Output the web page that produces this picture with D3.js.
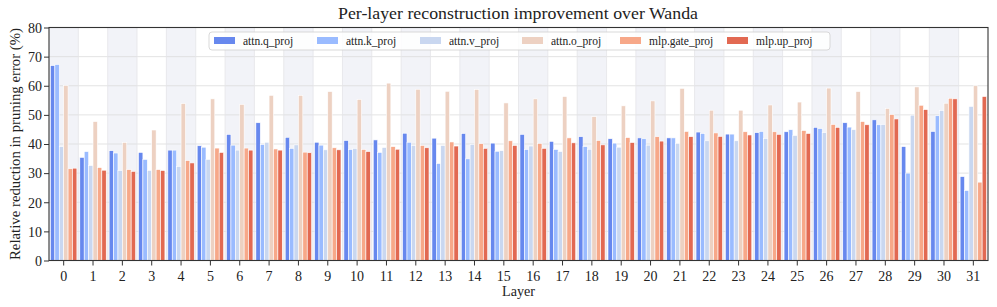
<!DOCTYPE html>
<html><head><meta charset="utf-8">
<script src="https://cdn.jsdelivr.net/npm/d3@7"></script>
<style>
body{margin:0;background:#fff;}
svg{display:block;}
text{font-family:"Liberation Serif","Times New Roman",serif;fill:#222;}
</style></head>
<body><svg id="c" width="997" height="307"></svg>
<script>
const layers = d3.range(32).map(String);
const seriesNames = ["attn.q_proj","attn.k_proj","attn.v_proj","attn.o_proj","mlp.gate_proj","mlp.up_proj"];
const colors = ["#6788ee","#9abbff","#c9d7f0","#edd1c2","#f7a889","#e26952"];
const qProj = [66.9,35.4,37.7,37.1,37.9,39.4,43.3,47.3,42.3,40.6,41.2,41.4,43.7,42.0,43.6,40.3,43.3,40.9,42.5,41.8,42.1,42.1,44.1,43.4,43.9,44.2,45.7,47.3,48.3,39.1,44.3,28.8];
const kProj = [67.3,37.4,36.9,34.7,37.9,38.9,39.6,39.8,38.5,39.6,38.1,37.1,40.6,33.3,34.9,37.5,38.1,38.1,39.1,40.3,41.8,42.1,43.6,43.4,44.3,44.9,45.3,45.8,46.6,30.0,49.7,24.0];
const vProj = [39.1,32.6,30.9,30.9,32.3,34.7,37.9,40.6,39.7,38.0,38.5,38.8,39.5,39.5,39.9,37.7,39.3,37.4,38.2,38.9,39.6,40.2,41.1,41.1,41.9,42.9,43.9,44.9,46.7,49.9,51.5,52.9];
const oProj = [60.1,47.7,40.5,44.8,53.9,55.5,53.6,56.7,56.7,58.0,55.3,60.9,58.8,58.1,58.7,54.1,55.5,56.3,49.4,53.1,54.8,59.1,51.6,51.6,53.4,54.4,59.2,58.0,52.2,59.6,54.0,60.0];
const gateProj = [31.5,31.9,31.2,31.2,34.3,38.6,38.6,38.3,37.2,38.7,38.1,39.1,39.5,40.7,40.1,41.1,40.2,42.1,41.2,42.2,42.5,44.3,43.8,44.2,44.2,44.6,46.7,47.7,50.1,53.3,55.7,26.9];
const upProj = [31.7,31.0,30.6,30.9,33.5,37.1,37.9,37.9,37.0,38.0,37.4,38.2,38.7,39.3,38.5,39.5,38.5,40.4,39.7,40.5,41.0,42.5,42.6,43.1,43.3,43.6,45.7,46.6,48.6,51.8,55.5,56.3];
const yTicks = [0,10,20,30,40,50,60,70,80];
const series = [qProj,kProj,vProj,oProj,gateProj,upProj];

const svg = d3.select("#c");
const L=49, R=988, T=27.5, B=260.5;
const x = d3.scaleBand().domain(layers).range([L,R]).padding(0);
const y = d3.scaleLinear().domain([0,80]).range([B,T]);
const bw = x.bandwidth();
const inner = d3.scaleBand().domain(d3.range(6)).range([-bw*0.45,bw*0.45]).padding(0);

// shading
svg.append("g").selectAll("rect").data(layers.filter((d,i)=>i%2===0)).join("rect")
  .attr("x",d=>x(d)).attr("y",T).attr("width",bw).attr("height",B-T).attr("fill","#f2f3f8");
// grid
svg.append("g").selectAll("line").data(yTicks).join("line")
  .attr("x1",L).attr("x2",R).attr("y1",d=>y(d)).attr("y2",d=>y(d))
  .attr("stroke","#dcdcdc").attr("stroke-width",0.8);
svg.append("g").selectAll("line").data(layers.slice(1)).join("line")
  .attr("x1",d=>x(d)).attr("x2",d=>x(d)).attr("y1",T).attr("y2",B)
  .attr("stroke","#e4e4e8").attr("stroke-width",0.8);

// bars
series.forEach((vals,si)=>{
  svg.append("g").selectAll("rect").data(vals).join("rect")
    .attr("x",(d,i)=>x(layers[i])+bw/2+inner(si))
    .attr("width",inner.bandwidth())
    .attr("y",d=>y(d)).attr("height",d=>B-y(d))
    .attr("fill",colors[si]).attr("stroke","#fff").attr("stroke-width",0.6);
});

// axes
const xa = svg.append("g").attr("transform",`translate(0,${B})`).call(d3.axisBottom(x).tickSize(5).tickSizeOuter(0));
const ya = svg.append("g").attr("transform",`translate(${L},0)`).call(d3.axisLeft(y).tickValues(yTicks).tickSize(5).tickSizeOuter(0));
[xa,ya].forEach(a=>{a.select(".domain").remove();
  a.selectAll("text").style("font-family","Liberation Serif, serif").style("font-size","14px").attr("fill","#222");
  a.selectAll("line").attr("stroke","#333");});
xa.selectAll("text").attr("dy","0.9em");
ya.selectAll("text").attr("x",-7).attr("dy","0.34em");
svg.append("rect").attr("x",L).attr("y",T).attr("width",R-L).attr("height",B-T)
  .attr("fill","none").attr("stroke","#333").attr("stroke-width",1.1);

// labels
svg.append("text").attr("x",518).attr("y",18.5).attr("text-anchor","middle").style("font-size","17px")
  .attr("textLength",360).attr("lengthAdjust","spacingAndGlyphs")
  .text("Per-layer reconstruction improvement over Wanda");
svg.append("text").attr("x",518.5).attr("y",296).attr("text-anchor","middle").style("font-size","14px")
  .attr("textLength",33).attr("lengthAdjust","spacingAndGlyphs").text("Layer");
svg.append("text").attr("transform",`translate(20,144) rotate(-90)`).attr("text-anchor","middle")
  .style("font-size","14px").attr("textLength",232).attr("lengthAdjust","spacingAndGlyphs")
  .text("Relative reduction in pruning error (%)");

// legend
const lg = svg.append("g");
const legX = [214,317,420,522,620,727];
lg.append("rect").attr("x",209).attr("y",32).attr("width",621).attr("height",18).attr("rx",3)
  .attr("fill","rgba(255,255,255,0.85)").attr("stroke","#cfcfcf").attr("stroke-width",0.8);
seriesNames.forEach((n,i)=>{
  lg.append("rect").attr("x",legX[i]).attr("y",37).attr("width",21).attr("height",7).attr("fill",colors[i]);
  lg.append("text").attr("x",legX[i]+29).attr("y",44.5).style("font-size","11.5px").text(n);
});
</script></body></html>
